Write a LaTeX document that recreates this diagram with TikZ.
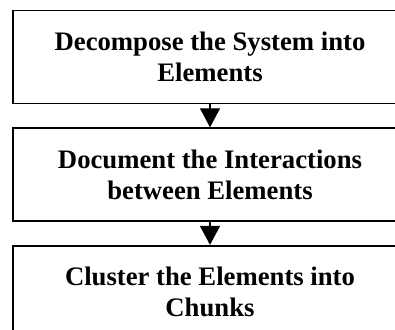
\documentclass[tikz,border=0pt]{standalone}
\usepackage{fontspec}
\setmainfont{Liberation Serif}
\usepackage{tikz}
\usetikzlibrary{arrows.meta,positioning}

\begin{document}
\begin{tikzpicture}[-,x=1pt,y=1pt]
\tikzstyle{stage}=[rectangle,draw=black,line width=1.6pt,minimum width=394pt,minimum height=93pt,inner sep=0pt,align=center,font=\fontsize{26.7}{31}\selectfont\bfseries]
\tikzstyle{flow}=[line width=1.2pt,-{Triangle[width=20pt,length=19pt]}]

\useasboundingbox (0,0) rectangle (395,-329);
\clip (0,0) rectangle (395,-329);

\node [stage] (decompose) at (210,-57) {Decompose the System into\\Elements};
\node [stage,below=23pt of decompose] (document) {Document the Interactions\\between Elements};
\node [stage,below=23pt of document] (cluster) {Cluster the Elements into\\Chunks};

\path [flow] (decompose) edge (document);
\path [flow] (document) edge (cluster);
\end{tikzpicture}
\end{document}
